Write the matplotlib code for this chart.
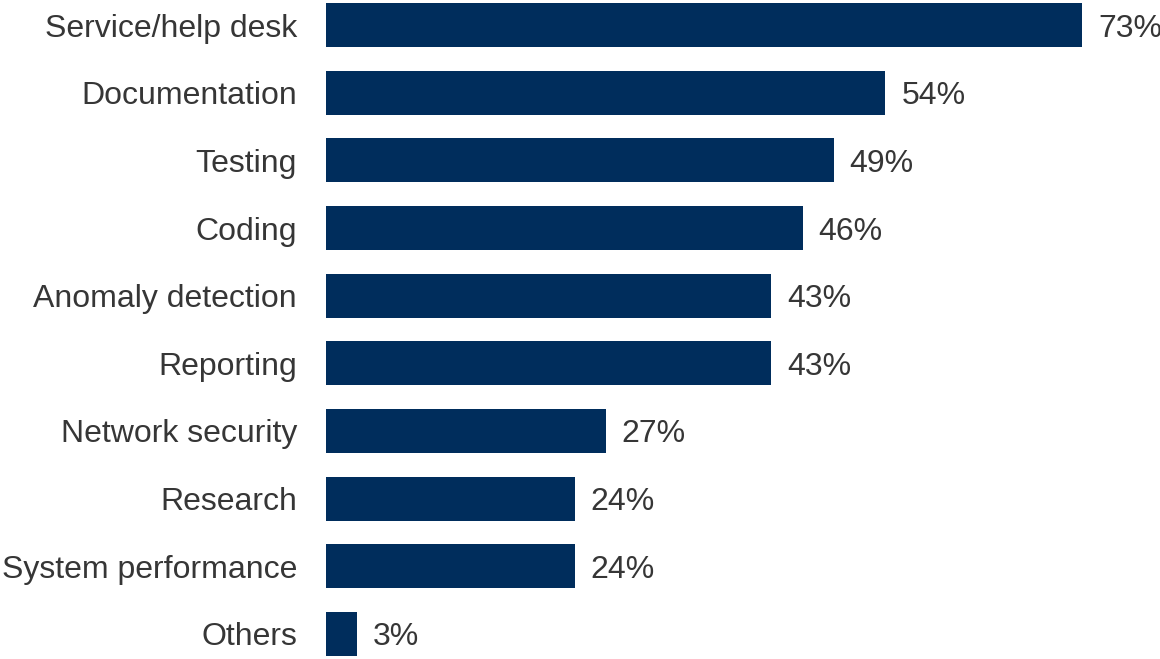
import matplotlib
matplotlib.use("Agg")
import matplotlib.pyplot as plt
from matplotlib.transforms import ScaledTranslation

categories = ["Service/help desk", "Documentation", "Testing", "Coding",
              "Anomaly detection", "Reporting", "Network security",
              "Research", "System performance", "Others"]
values = [73, 54, 49, 46, 43, 43, 27, 24, 24, 3]

plt.rcParams['font.family'] = ['Liberation Sans', 'DejaVu Sans']

fig = plt.figure(figsize=(11.6, 6.59), dpi=100)
ax = fig.add_axes([326/1160, 0, 834/1160, 1])
y = list(range(len(categories)))
ax.barh(y, values, height=0.65, color="#002D5C")
ax.set_xlim(0, 834/10.36)
ax.set_ylim(9.37, -0.37)
ax.set_yticks([])
ax.set_xticks([])
for s in ax.spines.values():
    s.set_visible(False)

fs = 23
tc = "#363636"
val_tr = ax.transData + ScaledTranslation(16/100, -11.5/100, fig.dpi_scale_trans)
lab_tr = ax.transData + ScaledTranslation(-29/100, -11.5/100, fig.dpi_scale_trans)
for yi, v, c in zip(y, values, categories):
    ax.text(v, yi, f"{v}%", va="baseline", ha="left", fontsize=fs, color=tc,
            transform=val_tr, clip_on=False)
    ax.text(0, yi, c, va="baseline", ha="right", fontsize=fs, color=tc,
            transform=lab_tr, clip_on=False)
fig.savefig("out.png", dpi=100)
